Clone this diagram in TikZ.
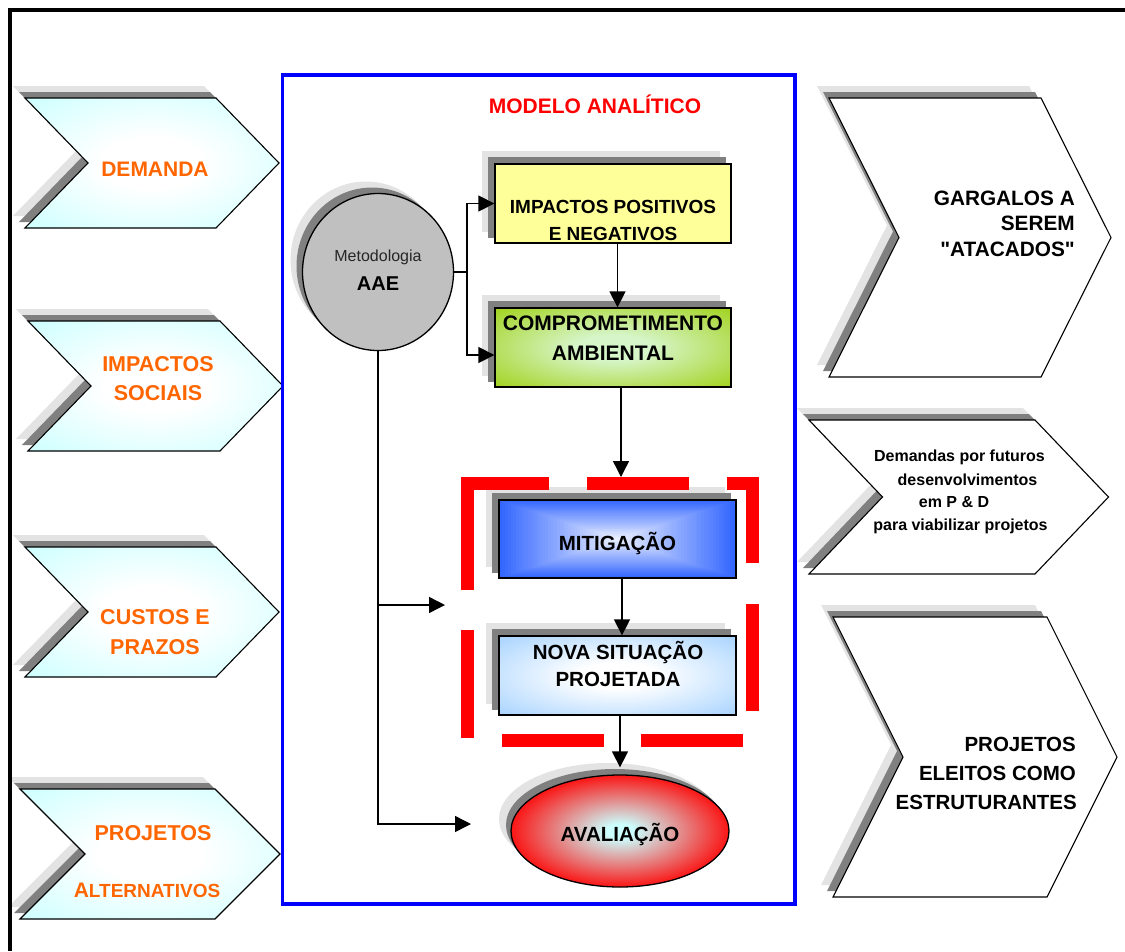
\documentclass[tikz,border=0pt]{standalone}
\usepackage{fontspec}
\setmainfont{Liberation Sans}
\newfontfamily\rawsans{Liberation Sans}
\usetikzlibrary{arrows.meta,shapes.geometric}
\definecolor{cyanL}{HTML}{CCFFFF}
\definecolor{orangeT}{HTML}{FF6600}
\definecolor{yellowB}{HTML}{FFFF99}
\definecolor{greenOut}{HTML}{99CC00}
\definecolor{greenIn}{HTML}{D6F5C8}
\definecolor{mitBlue}{HTML}{3366FF}
\definecolor{novaBlue}{HTML}{99CCFF}
\definecolor{circGrey}{HTML}{C0C0C0}
\definecolor{shDarkC}{HTML}{808080}
\definecolor{shLightC}{HTML}{E3E3E3}
\definecolor{frameBlue}{HTML}{0000FF}
\definecolor{redD}{HTML}{FF0000}
\definecolor{avalIn}{HTML}{CCFFFF}
\pgfdeclareradialshading{cyanrad}{\pgfpoint{0bp}{0bp}}{color(0bp)=(white); color(10bp)=(white); color(36bp)=(cyanL); color(50bp)=(cyanL)}
\pgfdeclareradialshading{greenrad}{\pgfpoint{0bp}{0bp}}{color(0bp)=(greenIn); color(8bp)=(greenIn); color(40bp)=(greenOut); color(50bp)=(greenOut)}
\pgfdeclareradialshading{novarad}{\pgfpoint{0bp}{0bp}}{color(0bp)=(white); color(8bp)=(white); color(40bp)=(novaBlue); color(50bp)=(novaBlue)}
\pgfdeclareradialshading{avalrad}{\pgfpoint{0bp}{0bp}}{color(0bp)=(avalIn); color(3bp)=(avalIn); color(27bp)=(redD); color(50bp)=(redD)}
\pgfdeclarelayer{paper}
\pgfdeclarelayer{shadow}
\pgfsetlayers{paper,shadow,main}
\newcommand\chevshape[6]{\path[#1] (#2,#3) -- ++(#4,0) -- ++(#5,#6/2) -- ++(-#5,#6/2) -- ++(-#4,0) -- ++(#5,-#6/2) -- cycle;}
\newcommand\chevfull[6]{%
  \chevshape{shlight}{#2-12}{#3-12}{#4}{#5}{#6}%
  \chevshape{shdark}{#2-6}{#3-6}{#4}{#5}{#6}%
  \chevshape{#1}{#2}{#3}{#4}{#5}{#6}}
\tikzset{
  conn/.style={line width=1.4pt, -{Triangle[length=16pt,width=16pt]}},
  plainline/.style={line width=1.4pt},
  shlight/.style={fill=shLightC, draw=none},
  shdark/.style={fill=shDarkC, draw=none},
  chevL/.style={draw=black, line width=1.1pt, shade, shading=cyanrad},
  chevR/.style={draw=black, line width=1.1pt, fill=white},
  boxn/.style={draw=black, line width=1.3pt, rectangle, inner sep=0pt, minimum width=236pt, minimum height=79pt},
  ltxt/.style={anchor=base, text=orangeT, inner sep=0pt, font=\bfseries\fontsize{21.5}{25}\selectfont},
  btxt/.style={anchor=base, text=black, inner sep=0pt, font=\bfseries\fontsize{20.5}{25}\selectfont},
  rtxt/.style={anchor=base east, text=black, inner sep=0pt, font=\bfseries\fontsize{20.8}{25}\selectfont},
  stxt/.style={anchor=base, text=black, inner sep=0pt, font=\bfseries\fontsize{16}{20}\selectfont},
  redash/.style={draw=redD, line width=13pt, line cap=butt, line join=miter},
}
\begin{document}
\begin{tikzpicture}[x=1pt, y=-1pt]
\useasboundingbox (0,0) rectangle (1125,951);
\begin{pgfonlayer}{paper}
\fill[white] (0,0) rectangle (1125,951);
\end{pgfonlayer}

% left chevrons
\chevfull{chevL}{25}{98}{191}{63}{130}
\chevfull{chevL}{28}{321}{192}{63}{130}
\chevfull{chevL}{25}{547}{191}{63}{130}
\chevfull{chevL}{20}{789}{195}{65}{130}
% right chevrons
\chevfull{chevR}{829}{98}{212}{70}{279}
\chevfull{chevR}{809}{420}{226}{73.5}{154}
\chevfull{chevR}{833}{617}{214}{70}{280}

% outer black frame
\draw[line width=4pt] (10,951) -- (10,10) -- (1125,10);

% blue frame
\draw[draw=frameBlue, line width=3.8pt] (282.5,75) rectangle (795,904);

% mitigation gradient (rectangular, from centre)
\foreach \i in {0,...,40}{
  \pgfmathsetmacro\t{1-\i/41}
  \pgfmathsetmacro\p{8+92*\t}
  \fill[mitBlue!\p!white] (617.5-118.5*\t, 539-39*\t) rectangle (617.5+118.5*\t, 539+39*\t);
}

% boxes
\node[boxn, fill=yellowB] (imp) at (613,203.5) {};
\node[boxn, shade, shading=greenrad] (comp) at (613,347.5) {};
\node[boxn, minimum width=237pt, minimum height=78pt] (mit) at (617.5,539) {};
\node[boxn, minimum width=237pt, shade, shading=novarad] (nova) at (617.5,675.5) {};
\node[ellipse, draw=black, line width=1.3pt, fill=circGrey, minimum width=151pt, minimum height=157pt, inner sep=0pt] (aae) at (378,272) {};
\node[ellipse, draw=black, line width=1.3pt, shade, shading=avalrad, minimum width=218pt, minimum height=112pt, inner sep=0pt] (aval) at (620,831) {};

% shadows
\begin{pgfonlayer}{shadow}
\foreach \n in {imp,comp,mit,nova}{
  \fill[shlight] ([shift={(-12,-12)}]\n.north west) rectangle ([shift={(-12,-12)}]\n.south east);
  \fill[shdark] ([shift={(-6,-6)}]\n.north west) rectangle ([shift={(-6,-6)}]\n.south east);
}
\fill[shlight] ([shift={(-12,-12)}]aae.center) ellipse [x radius=75.5, y radius=78.5];
\fill[shdark] ([shift={(-6,-6)}]aae.center) ellipse [x radius=75.5, y radius=78.5];
\fill[shlight] ([shift={(-12,-12)}]aval.center) ellipse [x radius=109, y radius=56];
\fill[shdark] ([shift={(-5,-6)}]aval.center) ellipse [x radius=109, y radius=56];
\end{pgfonlayer}

% red dashed frame
\draw[redash] (549.3,483.7) -- (467,483.7) -- (467,590);
\draw[redash] (586.7,483.7) -- (689,483.7);
\draw[redash] (726.7,483.7) -- (752,483.7) -- (752,562.7);
\draw[redash] (752,604) -- (752,710.7);
\draw[redash] (467,630) -- (467,737.7);
\draw[redash] (502,740.7) -- (604,740.7);
\draw[redash] (641,740.7) -- (742.7,740.7);

% connectors
\coordinate (jn) at (467,272);
\coordinate (redtop) at (621,477);
\coordinate (midarr) at (445,605);
\coordinate (botarr) at (471,824);
\draw[plainline] (aae.east) -- (jn);
\draw[conn] (jn) |- (imp.west);
\draw[conn] (jn) |- ([yshift=-7.5pt]comp.west);
\draw[conn] ([xshift=4.5pt]imp.south) -- ([xshift=4.5pt]comp.north);
\draw[conn] ([xshift=8pt]comp.south) -- (redtop);
\draw[conn] ([xshift=4.5pt]mit.south) -- ([xshift=4.5pt]nova.north);
\draw[conn, shorten >=7pt] ([xshift=2.5pt]nova.south) -- ([xshift=0pt]aval.north);
\draw[conn] (aae.south) |- (botarr);
\draw[conn] (aae.south |- midarr) -- (midarr);

% texts: left chevrons
\node[ltxt, font=\bfseries\fontsize{21}{25}\selectfont] (tdem) at (155,176) {DEMANDA};
\node[ltxt] (timpa) at (158,371.7) {IMPACTOS};
\node[ltxt] (timpb) at (158,400) {SOCIAIS};
\node[ltxt] (tcusa) at (155,624.3) {CUSTOS E};
\node[ltxt] (tcusb) at (155,654) {PRAZOS};
\node[ltxt] (tproa) at (153,840) {PROJETOS};
\node[ltxt, font=\bfseries\fontsize{19}{25}\selectfont] (tprob) at (147,897.3) {{\fontsize{21}{25}\selectfont A}LTERNATIVOS};

% centre texts
\node[anchor=base, text=redD, inner sep=0pt, font=\bfseries\fontsize{21}{25}\selectfont] (ttitle) at (595,113.3) {MODELO ANALÍTICO};
\node[anchor=base, text=black!85, inner sep=0pt, font=\fontsize{16}{20}\selectfont] (tmet) at (378,261.7) {Metodologia};
\node[btxt, font=\bfseries\fontsize{20}{25}\selectfont] (taae) at (378,290) {AAE};
\node[btxt, font=\bfseries\fontsize{19}{25}\selectfont] (timpp) at (613,213.3) {IMPACTOS POSITIVOS};
\node[btxt, font=\bfseries\fontsize{19}{25}\selectfont] (timpn) at (613,240) {E NEGATIVOS};
\node[btxt, font=\bfseries\fontsize{21}{25}\selectfont] (tcompa) at (613,330.7) {COMPROMETIMENTO};
\node[btxt, font=\bfseries\fontsize{21}{25}\selectfont] (tcompb) at (613,360) {AMBIENTAL};
\node[btxt] (tmit) at (617.5,550) {MITIGAÇÃO};
\node[btxt] (tnovaa) at (618,659.3) {NOVA SITUAÇÃO};
\node[btxt] (tnovab) at (618,686.7) {PROJETADA};
\node[btxt] (taval) at (620,841.7) {AVALIAÇÃO};

% right texts
\node[rtxt] (tgara) at (1075,205) {GARGALOS A};
\node[rtxt] (tgarb) at (1075,230) {SEREM};
\node[rtxt] (tgarc) at (1075,256.7) {{\rawsans"}ATACADOS{\rawsans"}};
\node[stxt] (tdema) at (959.5,461.7) {Demandas por futuros};
\node[stxt] (tdemb) at (967.5,485) {desenvolvimentos};
\node[stxt] (tdemc) at (954,507.5) {em P \& D};
\node[stxt] (tdemd) at (960.5,530) {para viabilizar projetos};
\node[rtxt, font=\bfseries\fontsize{20.5}{25}\selectfont] (tpra) at (1076,751.7) {PROJETOS};
\node[rtxt, font=\bfseries\fontsize{20.5}{25}\selectfont] (tprb) at (1076,780) {ELEITOS COMO};
\node[rtxt, font=\bfseries\fontsize{20.5}{25}\selectfont] (tprc) at (1077,809) {ESTRUTURANTES};
\end{tikzpicture}
\end{document}
